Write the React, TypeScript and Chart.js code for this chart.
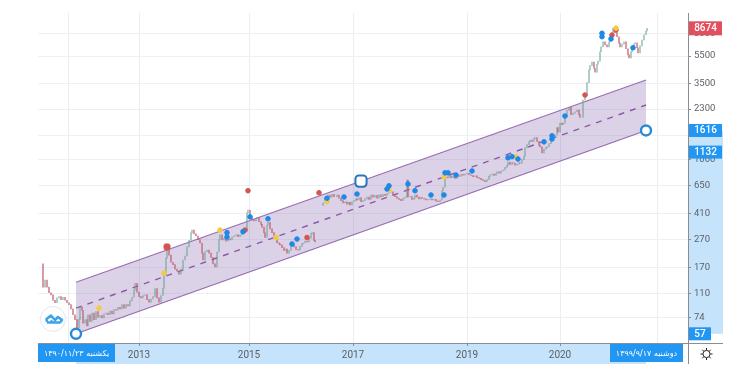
import React, { useEffect, useRef } from "react";
import { Chart, registerables } from "chart.js";

Chart.register(...registerables);

// price series (session number on the axis, closing price); null = no trading in that stretch
const sessions = [43,45,47,49,51,53,55,57,59,61,63,65,67,69,71,73,75,77,79,80,82,83,85,87,88,90,92,94,96,98,100,102,104,106,108,110,112,114,116,118,120,122,124,126,128,130,132,134,135,137,139,141,143,145,147,149,151,153,155,157,159,161,163,164,166,167,169,171,173,175,177,179,181,183,185,187,189,191,192,194,196,198,200,202,203,205,207,209,211,213,215,217,219,220,222,224,226,228,230,232,234,236,238,240,242,244,245,247,248,250,252,254,256,257,259,261,262,264,265,267,268,270,272,274,275,277,279,280,282,284,286,287,289,291,292,294,296,298,300,302,303,305,307,309,311,312,314,315,319,323,325,327,328,330,332,334,337,339,341,343,345,347,349,350,352,354,356,357,359,361,363,365,367,369,371,373,375,377,379,381,383,385,387,389,391,393,395,397,399,401,403,405,407,408,410,412,414,415,417,419,421,422,424,426,428,430,432,434,436,438,440,442,443,445,447,449,451,453,455,457,459,461,463,465,467,469,471,473,475,477,479,481,483,485,487,489,490,492,494,496,497,499,501,503,505,507,508,510,512,513,515,517,519,520,522,524,525,527,529,530,532,534,535,537,539,540,542,544,546,547,549,551,553,555,557,558,560,562,563,565,567,569,571,573,575,577,579,580,583,585,587,589,590,592,594,595,597,598,600,601,603,605,607,609,610,612,613,615,617,619,620,622,624,626,628,629,631,632,634,635,637,638,640,642,644,646,647];
const closes: (number | null)[] = [123,138,123,112,108,99,95,103,105,100,104,99,95,92,86,78,72,63,72,89,84,68,72,65,78,70,80,72,82,75,77,74,79,80,78,83,79,85,84,88,86,92,87,92,90,98,104,117,131,113,105,103,107,108,100,96,101,105,120,103,96,107,121,150,198,226,208,185,178,165,160,152,165,192,205,238,265,300,314,295,285,268,254,215,192,220,226,215,200,180,171,219,270,290,267,275,262,272,267,280,285,290,282,290,295,301,310,417,437,385,371,365,380,386,360,345,330,300,278,340,356,320,301,285,278,255,250,246,235,225,230,215,225,240,246,238,228,226,240,250,254,262,258,275,295,301,265,258,null,490,530,545,559,540,565,545,559,530,510,490,500,480,495,474,500,510,525,515,535,500,510,525,540,520,559,540,555,530,560,545,565,555,575,585,590,560,545,530,520,510,530,540,716,541,545,520,530,559,540,525,535,530,525,515,520,525,515,520,505,500,515,600,635,755,740,770,745,760,735,770,760,785,775,790,800,780,770,755,765,745,735,720,710,695,720,760,777,790,770,800,818,800,830,844,880,910,960,925,950,945,915,930,950,945,1000,1060,1215,1280,1340,1382,1350,1420,1436,1350,1270,1235,1115,1190,1220,1235,1300,1380,1436,1500,1695,1570,1825,1780,1825,2050,2250,2360,2100,2150,2200,2263,2100,2000,2667,2896,3550,4368,4700,4975,4500,4220,4800,5060,5900,6400,6950,6600,6400,6950,7154,8000,8700,8100,7550,6800,6400,6700,6950,6200,5600,5320,5900,6300,6700,6840,6300,5790,6500,7154,7800,8300,8674];
const firstOpen = 180;

// regression channel
const channelSessions = [76, 646];
const channelUpper = [133, 3706];
const channelMiddle = [87, 2457];
const channelLower = [57, 1616];

// event markers
const blueSessions = [227,227,243,250,268,292,297,327,344,357,387,389,408,415,431,444,445,448,456,472,508,512,518,544,552,552,565,602,602,611,633];
const blueValues = [301,280,306,390,378,250,271,530,541,568,617,650,670,600,559,559,805,805,777,830,1030,1050,1010,1340,1480,1405,2050,8000,7550,7290,6300];
const yellowSessions = [99,164,220,276,327,389,444,516,616];
const yellowValues = [87,155,314,278,500,607,755,1050,8700];
const redSessions = [248,245,307,319,585,612,616];
const redValues = [600,314,278,580,2896,7767,8432];
const flagSessions = [167];
const flagValues = [238];
const handleSessions = [76, 646];
const handleValues = [57, 1616];
const midHandleSessions = [361];
const midHandleValues = [703];

// axes
const priceTicks = [74,110,170,270,410,650,1000,1500,2300,3500,5500,8000];
const yearTickSessions = [68,139,249,353,467,560,657];
const yearTickLabels = ["","2013","2015","2017","2019","2020",""];
const lastPrice = "8674";
const rangeHigh = "1616";
const rangeMid = "1132";
const rangeLow = "57";
const startDate = "یکشنبه ۱۳۹۰/۱۱/۲۳";
const endDate = "دوشنبه ۱۳۹۹/۹/۱۷";

const FONT = "Roboto";
const BLUE = "#2196f3";
const BAND = "#c5e3fb";

function bars() {
  const pts: any[] = [];
  const colors: string[] = [];
  let prev: number | null = firstOpen;
  sessions.forEach((s, i) => {
    const c = closes[i];
    if (c === null) { prev = null; return; }
    const o: number = prev === null ? c * 0.96 : prev;
    pts.push({ x: s, y: [o, c] });
    colors.push(c >= o ? "rgba(104,160,146,0.62)" : "rgba(190,88,104,0.72)");
    prev = c;
  });
  return { pts, colors };
}

const zip = (xs: number[], ys: number[]) => xs.map((x, i) => ({ x, y: ys[i] }));

function box(ctx: any, x: number, y: number, w: number, h: number, color: string, text: string, font: string, rtl = false) {
  ctx.fillStyle = color;
  ctx.fillRect(x, y, w, h);
  ctx.fillStyle = "#fff";
  ctx.font = font;
  ctx.textAlign = "center";
  ctx.textBaseline = "middle";
  ctx.direction = rtl ? "rtl" : "ltr";
  ctx.fillText(text, x + w / 2, y + h / 2 + 0.5);
  ctx.direction = "ltr";
}

const overlay = {
  id: "overlay",
  beforeDraw(chart: any) {
    const { ctx } = chart;
    const x = chart.scales.x;
    const y = chart.scales.y;
    ctx.save();
    ctx.fillStyle = BAND;
    ctx.fillRect(x.getPixelForValue(channelSessions[0]), 344, x.getPixelForValue(channelSessions[1]) - x.getPixelForValue(channelSessions[0]), 20);
    const top = y.getPixelForValue(channelLower[1]);
    ctx.fillRect(689, top, 34, y.getPixelForValue(channelLower[0]) - top);
    ctx.restore();
  },
  afterDraw(chart: any) {
    const { ctx } = chart;
    const y = chart.scales.y;
    ctx.save();
    const bold = `500 10px ${FONT}`;
    const centred = (v: number) => y.getPixelForValue(v);
    box(ctx, 689, centred(8674) - 7, 33, 14, "#e2505f", lastPrice, bold);
    box(ctx, 689, centred(1616) - 6.5, 33, 13, BLUE, rangeHigh, bold);
    box(ctx, 689, centred(1132) - 6.5, 33, 13, BLUE, rangeMid, bold);
    box(ctx, 689, centred(57) - 6.5, 22, 13, BLUE, rangeLow, bold);
    box(ctx, 38, 344, 77, 18, BLUE, startDate, `8px "DejaVu Sans"`, true);
    box(ctx, 610, 344, 73, 18, BLUE, endDate, `8px "DejaVu Sans"`, true);

    // frame of the settings cell
    ctx.strokeStyle = "#8a8d94";
    ctx.lineWidth = 1;
    ctx.beginPath();
    ctx.moveTo(688.5, 13); ctx.lineTo(688.5, 364);
    ctx.moveTo(38, 343.5); ctx.lineTo(723, 343.5);
    ctx.stroke();

    // settings icon
    ctx.strokeStyle = "#222";
    ctx.lineWidth = 1;
    ctx.beginPath();
    ctx.arc(706.5, 354, 3.6, 0, Math.PI * 2);
    for (let a = 0; a < 8; a++) {
      const t = (a * Math.PI) / 4;
      ctx.moveTo(706.5 + Math.cos(t) * 3.8, 354 + Math.sin(t) * 3.8);
      ctx.lineTo(706.5 + Math.cos(t) * 6, 354 + Math.sin(t) * 6);
    }
    ctx.stroke();

    // logo badge
    ctx.beginPath();
    ctx.arc(53, 319, 12.5, 0, Math.PI * 2);
    ctx.fillStyle = "#fff";
    ctx.fill();
    ctx.strokeStyle = "#e4e6ea";
    ctx.stroke();
    ctx.strokeStyle = "#3fa3ea";
    ctx.fillStyle = "#3fa3ea";
    ctx.lineWidth = 2.6;
    ctx.lineJoin = "round";
    ctx.beginPath();
    ctx.moveTo(47, 322); ctx.lineTo(46.5, 319); ctx.lineTo(51, 315.5); ctx.lineTo(55, 320);
    ctx.lineTo(58, 317); ctx.lineTo(62, 320); ctx.lineTo(60, 322.5); ctx.lineTo(47, 322.5);
    ctx.stroke();
    ctx.beginPath();
    ctx.moveTo(48.5, 323); ctx.lineTo(51.5, 319.5); ctx.lineTo(55, 323);
    ctx.fill();
    ctx.restore();
  },
};

export default function App() {
  const ref = useRef<HTMLCanvasElement>(null);
  useEffect(() => {
    const { pts, colors } = bars();
    const point = (xs: number[], ys: number[], color: string, radius = 2.3, style = "circle") => ({
      type: "scatter" as const,
      data: zip(xs, ys),
      backgroundColor: color,
      borderColor: color,
      pointRadius: radius,
      pointStyle: style,
      showLine: false,
      order: 1,
    });
    const channelLine = (ys: number[], extra: any) => ({
      type: "line" as const,
      data: zip(channelSessions, ys),
      borderColor: "#9a6cb4",
      borderWidth: 1.2,
      pointRadius: 0,
      ...extra,
    });
    const chart = new Chart(ref.current as HTMLCanvasElement, {
      data: {
        datasets: [
          channelLine(channelUpper, { fill: "+2", backgroundColor: "rgba(126,87,170,0.27)", order: 5 }),
          channelLine(channelMiddle, { borderDash: [6, 6], borderWidth: 1.4, borderColor: "#8a5aa6", order: 4 }),
          channelLine(channelLower, { order: 5 }),
          { type: "bar" as const, data: pts, backgroundColor: colors, barThickness: 1, order: 3 },
          point(blueSessions, blueValues, "#1e88e5"),
          point(yellowSessions, yellowValues, "#f6c945"),
          point(redSessions, redValues, "#d2554f"),
          point(flagSessions, flagValues, "#d2554f", 3.5, "rectRounded"),
          {
            type: "scatter" as const,
            data: zip(handleSessions, handleValues),
            backgroundColor: "#fff",
            borderColor: "#2a8ad6",
            borderWidth: 2.4,
            pointRadius: 5,
            order: 0,
          },
          {
            type: "scatter" as const,
            data: zip(midHandleSessions, midHandleValues),
            backgroundColor: "#fff",
            borderColor: "#2a76b8",
            borderWidth: 2,
            pointRadius: 6.5,
            pointStyle: "rectRounded",
            order: 0,
          },
        ] as any,
      },
      options: {
        responsive: false,
        animation: false,
        layout: { padding: { top: 13, left: 38, right: 0, bottom: 0 } },
        plugins: { legend: { display: false }, tooltip: { enabled: false } },
        scales: {
          x: {
            type: "linear",
            min: 38,
            max: 688,
            offset: false,
            afterFit: (s: any) => { s.height = 33; },
            afterBuildTicks: (s: any) => { s.ticks = yearTickSessions.map((value) => ({ value })); },
            grid: { color: "#e7eef4", tickColor: "#8a8d94", tickLength: 3, offset: false },
            border: { color: "#8a8d94" },
            ticks: {
              autoSkip: false,
              maxRotation: 0,
              padding: 3,
              color: "#5c5f66",
              font: { family: FONT, size: 10 },
              callback: (v: any) => yearTickLabels[yearTickSessions.indexOf(Number(v))] ?? "",
            },
          },
          y: {
            type: "logarithmic",
            position: "right",
            min: 49,
            max: 11160,
            afterFit: (s: any) => { s.width = 58; },
            afterBuildTicks: (s: any) => { s.ticks = priceTicks.map((value) => ({ value })); },
            grid: { color: "#eef1f4", tickColor: "#8a8d94", tickLength: 3 },
            border: { color: "#8a8d94" },
            ticks: {
              autoSkip: false,
              padding: 3,
              color: "#5c5f66",
              font: { family: FONT, size: 9.5 },
              callback: (v: any) => String(v),
            },
          },
        },
      } as any,
      plugins: [overlay],
    });
    return () => chart.destroy();
  }, []);
  return (
    <div style={{ position: "absolute", left: 0, top: 0, width: 746, height: 376, background: "#fff" }}>
      <canvas ref={ref} width={746} height={376} style={{ display: "block", filter: "blur(0.45px)" }} />
    </div>
  );
}
